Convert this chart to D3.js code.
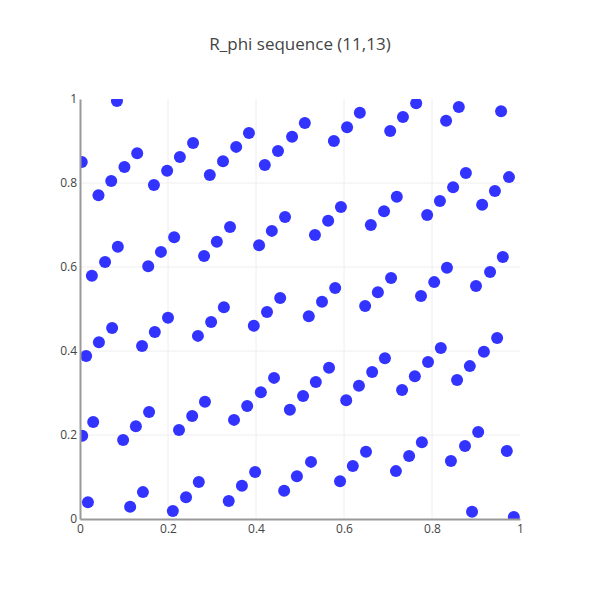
<!DOCTYPE html>
<html><head><meta charset="utf-8">
<script src="https://cdn.jsdelivr.net/npm/d3@7"></script>
<style>body{margin:0;background:#fff;} text{font-family:"Open Sans",sans-serif;}</style>
</head><body><svg id="c" width="600" height="600"></svg>
<script>
const title = "R_phi sequence (11,13)";
const xTicks = [0, 0.2, 0.4, 0.6, 0.8, 1];
const yTicks = [0, 0.2, 0.4, 0.6, 0.8, 1];
const xs = [
0.004,0.084,0.042,0.071,0.101,0.130,0.168,0.198,0.227,0.257,0.295,0.325,0.355,0.384,0.420,0.450,0.482,0.511,0.577,0.607,0.636,0.705,0.734,0.764,0.832,0.861,0.957,
0.027,0.057,0.086,0.155,0.184,0.214,0.282,0.311,0.341,0.407,0.436,0.466,0.534,0.564,0.593,0.661,0.691,0.720,0.789,0.818,0.848,0.877,0.914,0.943,0.975,
0.014,0.043,0.073,0.141,0.170,0.200,0.268,0.298,0.327,0.395,0.425,0.455,0.520,0.550,0.580,0.648,0.677,0.707,0.775,0.805,0.834,0.900,0.932,0.961,
0.005,0.030,0.098,0.127,0.157,0.225,0.255,0.284,0.350,0.380,0.411,0.441,0.477,0.507,0.536,0.566,0.605,0.634,0.664,0.693,0.732,0.761,0.791,0.820,0.857,0.886,0.918,0.948,
0.018,0.114,0.143,0.211,0.241,0.270,0.338,0.368,0.398,0.464,0.493,0.525,0.591,0.620,0.650,0.718,0.748,0.777,0.843,0.875,0.905,0.970,0.891,0.986
];
const ys = [
0.850,0.995,0.771,0.805,0.838,0.871,0.795,0.829,0.862,0.895,0.819,0.852,0.886,0.919,0.843,0.876,0.910,0.943,0.900,0.933,0.967,0.924,0.957,0.990,0.948,0.981,0.971,
0.579,0.612,0.648,0.602,0.636,0.671,0.626,0.660,0.695,0.652,0.686,0.719,0.676,0.710,0.743,0.700,0.733,0.767,0.724,0.757,0.790,0.824,0.748,0.781,0.814,
0.388,0.421,0.455,0.412,0.445,0.479,0.436,0.469,0.504,0.460,0.493,0.526,0.483,0.517,0.550,0.507,0.540,0.574,0.531,0.564,0.598,0.555,0.588,0.624,
0.198,0.231,0.188,0.221,0.255,0.212,0.245,0.279,0.236,0.269,0.302,0.336,0.260,0.293,0.326,0.360,0.283,0.317,0.350,0.383,0.307,0.340,0.374,0.407,0.331,0.364,0.398,0.431,
0.040,0.029,0.064,0.019,0.052,0.088,0.043,0.079,0.112,0.067,0.102,0.136,0.090,0.126,0.160,0.114,0.150,0.183,0.138,0.174,0.207,0.162,0.017,0.005
];
const points = xs.map((x, i) => ({x, y: ys[i]}));

const svg = d3.select("#c");
const m = {l: 80, r: 80, t: 99, b: 81};
const W = 600, H = 600;
const x = d3.scaleLinear().domain([0, 1]).range([m.l, W - m.r]);
const y = d3.scaleLinear().domain([0, 1]).range([H - m.b, m.t]);

svg.append("text").attr("x", 300).attr("y", 50).attr("text-anchor", "middle")
  .attr("font-size", 17).attr("fill", "#444").text(title);

// grid (interior ticks only)
svg.append("g").selectAll("line").data(xTicks.filter(d => d > 0 && d < 1)).join("line")
  .attr("x1", d => x(d)).attr("x2", d => x(d)).attr("y1", y(0)).attr("y2", y(1))
  .attr("stroke", "#eee").attr("stroke-width", 1);
svg.append("g").selectAll("line").data(yTicks.filter(d => d > 0 && d < 1)).join("line")
  .attr("y1", d => y(d)).attr("y2", d => y(d)).attr("x1", x(0)).attr("x2", x(1))
  .attr("stroke", "#eee").attr("stroke-width", 1);

svg.append("defs").append("clipPath").attr("id", "clip").append("rect")
  .attr("x", x(0)).attr("y", y(1)).attr("width", x(1) - x(0)).attr("height", y(0) - y(1));

svg.append("g").attr("clip-path", "url(#clip)").selectAll("circle").data(points).join("circle")
  .attr("cx", d => x(d.x)).attr("cy", d => y(d.y)).attr("r", 6).attr("fill", "#3333ff");

// axes
const xa = svg.append("g").attr("transform", `translate(0,${y(0)})`)
  .call(d3.axisBottom(x).tickValues(xTicks).tickFormat(d3.format("~g")).tickSize(0).tickPadding(5));
const ya = svg.append("g").attr("transform", `translate(${x(0)},0)`)
  .call(d3.axisLeft(y).tickValues(yTicks).tickFormat(d3.format("~g")).tickSize(0).tickPadding(3));
[xa, ya].forEach(a => {
  a.select(".domain").attr("stroke", "#999").attr("stroke-width", 2);
  a.selectAll("text").attr("font-size", 12).attr("fill", "#444").attr("font-family", "Open Sans");
});
</script></body></html>
